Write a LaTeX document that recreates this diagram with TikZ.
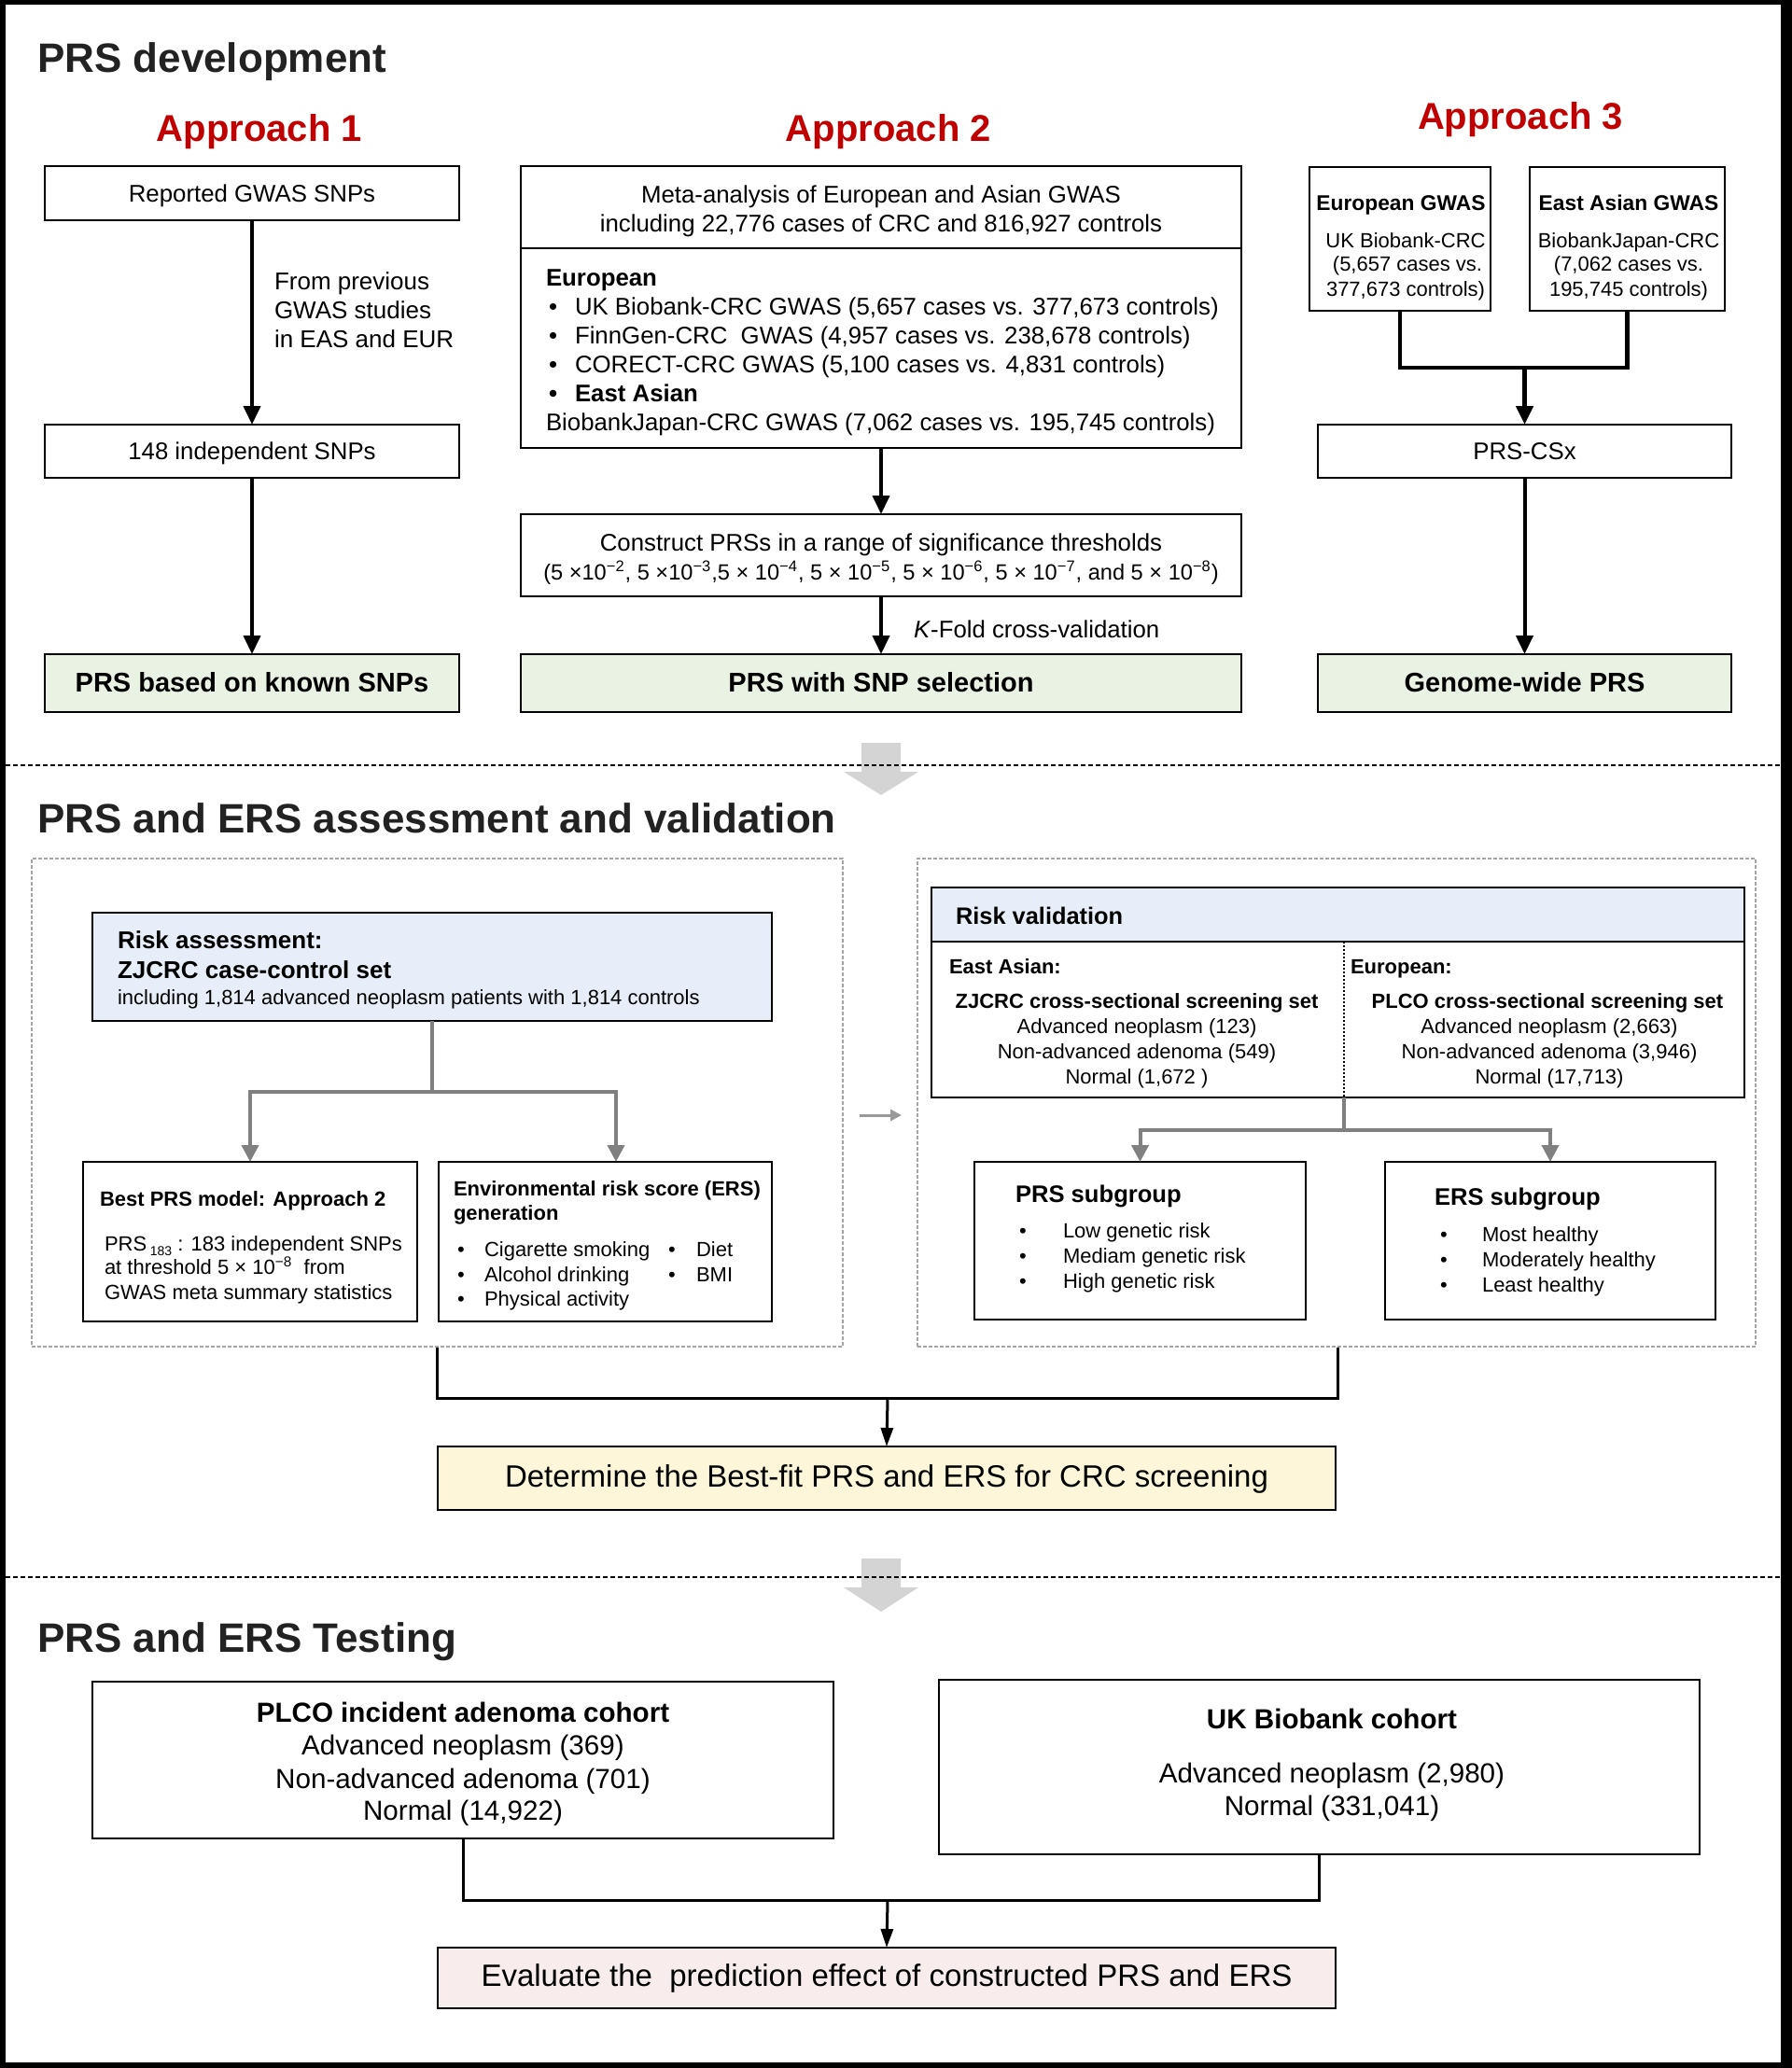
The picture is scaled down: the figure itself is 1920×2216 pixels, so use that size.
\documentclass[tikz,border=0pt]{standalone}
\usepackage{fontspec}
\setmainfont{Liberation Sans}
\usetikzlibrary{arrows.meta}
\definecolor{apred}{RGB}{192,0,0}
\definecolor{gfill}{RGB}{234,242,228}
\definecolor{bfill}{RGB}{231,238,249}
\definecolor{yfill}{RGB}{253,246,217}
\definecolor{pfill}{RGB}{249,236,236}
\definecolor{garrow}{RGB}{212,212,212}
\definecolor{gline}{RGB}{128,128,128}
\definecolor{gdash}{RGB}{165,165,165}
\definecolor{hdcol}{RGB}{34,34,34}
\begin{document}
\begin{tikzpicture}[x=0.5pt,y=-0.5pt,
 box/.style={draw=black, line width=1pt, inner sep=0pt, outer sep=0pt},
 tc/.style={inner sep=0pt, outer sep=0pt, anchor=mid, yshift=-2pt},
 tl/.style={inner sep=0pt, outer sep=0pt, anchor=mid west, yshift=-2pt},
 fa/.style={font=\fontsize{11}{13}\selectfont},
 fab/.style={font=\fontsize{11.4}{14}\selectfont\bfseries},
 fb/.style={font=\fontsize{12.9}{15}\selectfont},
 fbb/.style={font=\fontsize{12.9}{15}\selectfont\bfseries},
 fc/.style={font=\fontsize{13}{15}\selectfont},
 fgb/.style={font=\fontsize{14.5}{17}\selectfont\bfseries},
 fe/.style={font=\fontsize{16.5}{19}\selectfont},
 fs3/.style={font=\fontsize{14.8}{17}\selectfont, yshift=-1pt},
 fs3b/.style={font=\fontsize{14.8}{17}\selectfont\bfseries, yshift=-1pt},
 hd/.style={tl, font=\fontsize{22}{26}\selectfont\bfseries, text=hdcol, yshift=-3pt},
 ap/.style={tc, font=\fontsize{20}{24}\selectfont\bfseries, text=apred, yshift=-2.5pt},
 arr/.style={line width=2pt, -{Triangle[length=10pt,width=9pt]}},
 barr/.style={line width=1.5pt, -{Triangle[length=10pt,width=6.5pt]}},
 bline/.style={line width=1.5pt},
 garr/.style={draw=gline, line width=2pt, -{Triangle[length=9pt,width=9pt]}},
 gconn/.style={draw=gline, line width=2pt},
 gbox/.style={draw=gdash, line width=0.8pt, dash pattern=on 2pt off 1pt, inner sep=0pt},
 sep/.style={draw=black, line width=1pt, dash pattern=on 2.5pt off 1.5pt},
]
\useasboundingbox (0,0) rectangle (1920,2216);
\fill[black] (0,0) rectangle (1920,2216);
\fill[white] (6,5) rectangle (1908,2210);

% ---------------- Section 1 ----------------
\node[hd] (h1) at (40,62) {PRS development};
\node[ap] (ap1) at (278,137) {Approach 1};
\node[ap] (ap2) at (952,137) {Approach 2};
\node[ap] (ap3) at (1629,124) {Approach 3};

% Approach 1
\node[box, minimum width=222pt, minimum height=29pt] (a1) at (270,207) {};
\node[tc, fb] (a1t) at (a1) {Reported GWAS SNPs};
\node[box, minimum width=222pt, minimum height=28.5pt] (b1) at (270,483.5) {};
\node[tc, fb] (b1t) at (b1) {148 independent SNPs};
\node[box, fill=gfill, minimum width=222pt, minimum height=31pt] (c1) at (270,732) {};
\node[tc, fgb] (c1t) at (c1) {PRS based on known SNPs};
\draw[arr] (a1.south) -- (b1.north);
\draw[arr] (b1.south) -- (c1.north);
\node[tl, fc] (f1) at (294,301) {From previous};
\node[tl, fc] (f2) at (294,332) {GWAS studies};
\node[tl, fc] (f3) at (294,363) {in EAS and EUR};

% Approach 2
\node[box, minimum width=386pt, minimum height=44pt] (a2) at (944,222) {};
\node[tc, fb] (a2t1) at (944,208) {Meta-analysis of European and Asian GWAS};
\node[tc, fb] (a2t2) at (944,239) {including 22,776 cases of CRC and 816,927 controls};
\node[box, minimum width=386pt, minimum height=107pt] (b2) at (944,373) {};
\node[tl, fbb] (eu) at (585,297) {European};
\node[tl, fb] (bu1) at (588,328) {•};
\node[tl, fb] (it1) at (616,328) {UK Biobank-CRC GWAS (5,657 cases vs. 377,673 controls)};
\node[tl, fb] (bu2) at (588,359) {•};
\node[tl, fb] (it2) at (616,359) {FinnGen-CRC\ \ GWAS (4,957 cases vs. 238,678 controls)};
\node[tl, fb] (bu3) at (588,390) {•};
\node[tl, fb] (it3) at (616,390) {CORECT-CRC GWAS (5,100 cases vs. 4,831 controls)};
\node[tl, fbb] (bu4) at (588,421) {•};
\node[tl, fbb] (it4) at (616,421) {East Asian};
\node[tl, fb] (it5) at (585,452) {BiobankJapan-CRC GWAS (7,062 cases vs. 195,745 controls)};
\node[box, minimum width=386pt, minimum height=44pt] (c2) at (944,595) {};
\node[tc, fb] (c2t1) at (944,581) {Construct PRSs in a range of significance thresholds};
\node[tc, font=\fontsize{11.8}{14}\selectfont] (c2t2) at (944,612) {(5 ×10\textsuperscript{−2}, 5 ×10\textsuperscript{−3},5 × 10\textsuperscript{−4}, 5 × 10\textsuperscript{−5}, 5 × 10\textsuperscript{−6}, 5 × 10\textsuperscript{−7}, and 5 × 10\textsuperscript{−8})};
\node[box, fill=gfill, minimum width=386pt, minimum height=31pt] (d2) at (944,732) {};
\node[tc, fgb] (d2t) at (d2) {PRS with SNP selection};
\draw[arr] (b2.south) -- (c2.north);
\draw[arr] (c2.south) -- (d2.north);
\node[tl, fb] (kf) at (979,674) {\textit{K}-Fold cross-validation};

% Approach 3
\node[box, minimum width=97pt, minimum height=77pt] (a3) at (1500,256) {};
\node[tc, fab] (a3t0) at (1501,216) {European GWAS};
\node[tc, fa] (a3t1) at (1506,256) {UK Biobank-CRC};
\node[tc, fa] (a3t2) at (1508,281) {(5,657 cases vs.};
\node[tc, fa] (a3t3) at (1506,308) {377,673 controls)};
\node[box, minimum width=104.5pt, minimum height=77pt] (b3) at (1743.5,256) {};
\node[tc, fab] (b3t0) at (1745,216) {East Asian GWAS};
\node[tc, fa] (b3t1) at (1745,256) {BiobankJapan-CRC};
\node[tc, fa] (b3t2) at (1745,281) {(7,062 cases vs.};
\node[tc, fa] (b3t3) at (1745,308) {195,745 controls)};
\coordinate (j3) at (1633.5,394);
\draw[line width=2.4pt] (a3.south) |- (j3) -| (b3.south);
\node[box, minimum width=221.5pt, minimum height=28.5pt] (csx) at (1633.5,483.5) {};
\node[tc, fb] (csxt) at (csx) {PRS-CSx};
\node[box, fill=gfill, minimum width=221.5pt, minimum height=31pt] (gw) at (1633.5,732) {};
\node[tc, fgb] (gwt) at (gw) {Genome-wide PRS};
\draw[arr, line width=2.4pt] (j3) -- (csx.north);
\draw[arr] (csx.south) -- (gw.north);

% separator 1
\fill[garrow] (923,796) -- (965,796) -- (965,827) -- (984,827) -- (944,852) -- (904,827) -- (923,827) -- cycle;
\draw[sep] (6,820) -- (1908,820);

% ---------------- Section 2 ----------------
\node[hd] (h2) at (40,877) {PRS and ERS assessment and validation};
\node[gbox, minimum width=434.5pt, minimum height=261.5pt] (lbox) at (468.5,1181.5) {};
\node[gbox, minimum width=449pt, minimum height=261.5pt] (rbox) at (1432,1181.5) {};

% left part
\node[box, fill=bfill, minimum width=364pt, minimum height=58pt] (ra) at (463,1036) {};
\node[tl, font=\bfseries\fontsize{13}{15}\selectfont] (rat1) at (126,1007) {Risk assessment:};
\node[tl, font=\bfseries\fontsize{13}{15}\selectfont] (rat2) at (126,1039) {ZJCRC case-control set};
\node[tl, fa] (rat3) at (126,1067) {including 1,814 advanced neoplasm patients with 1,814 controls};
\node[box, minimum width=179pt, minimum height=85.5pt] (best) at (268,1330.5) {};
\node[box, minimum width=178.5pt, minimum height=85.5pt] (ers) at (648.5,1330.5) {};
\coordinate (ga) at (463,1170);
\draw[gconn] (ra.south) -- (ga);
\draw[garr] (ga) -| (best.north);
\draw[garr] (ga) -| ([xshift=5.75pt]ers.north);
\node[tl, font=\bfseries\fontsize{11}{13}\selectfont] (bt0) at (107,1283) {Best PRS model: Approach 2};
\node[tl, fa] (bt1) at (112,1331) {PRS\,\raisebox{-0.45ex}{\fontsize{7}{8}\selectfont 183} : 183 independent SNPs};
\node[tl, fa] (bt2) at (112,1356) {at threshold 5 × 10\textsuperscript{−8}\ \ from};
\node[tl, fa] (bt3) at (112,1383) {GWAS meta summary statistics};
\node[tl, font=\bfseries\fontsize{11}{13}\selectfont] (et0) at (486,1272) {Environmental risk score (ERS)};
\node[tl, font=\bfseries\fontsize{11}{13}\selectfont] (et1) at (486,1298) {generation};
\node[tl, fa] (eb1) at (490,1337) {•};
\node[tl, fa] (ei1) at (519,1337) {Cigarette smoking};
\node[tl, fa] (eb2) at (490,1364) {•};
\node[tl, fa] (ei2) at (519,1364) {Alcohol drinking};
\node[tl, fa] (eb3) at (490,1390) {•};
\node[tl, fa] (ei3) at (519,1390) {Physical activity};
\node[tl, fa] (eb4) at (716,1337) {•};
\node[tl, fa] (ei4) at (746,1337) {Diet};
\node[tl, fa] (eb5) at (716,1364) {•};
\node[tl, fa] (ei5) at (746,1364) {BMI};

% small arrow between boxes
\coordinate (sa1) at (921,1195);
\coordinate (sa2) at (966,1195);
\draw[draw=gline!80, line width=1.5pt, -{Triangle[length=6pt,width=6pt]}] (sa1) -- (sa2);

% right part
\node[box, fill=bfill, minimum width=435.5pt, minimum height=29pt] (rvh) at (1433.5,980) {};
\node[tl, font=\bfseries\fontsize{12.7}{15}\selectfont] (rvt) at (1024,981) {Risk validation};
\node[box, minimum width=435.5pt, minimum height=83.5pt] (rvl) at (1433.5,1092.5) {};
\draw[line width=0.8pt, dash pattern=on 1pt off 1pt] (1440,0 |- rvl.north) -- (1440,0 |- rvl.south);
\node[tl, font=\bfseries\fontsize{11}{13}\selectfont] (eat) at (1017,1034) {East Asian:};
\node[tc, font=\bfseries\fontsize{11}{13}\selectfont] (ea1) at (1218,1071) {ZJCRC cross-sectional screening set};
\node[tc, fa] (ea2) at (1218,1098) {Advanced neoplasm (123)};
\node[tc, fa] (ea3) at (1218,1125) {Non-advanced adenoma (549)};
\node[tc, fa] (ea4) at (1218,1152) {Normal (1,672 )};
\node[tl, font=\bfseries\fontsize{11}{13}\selectfont] (eut) at (1447,1034) {European:};
\node[tc, font=\bfseries\fontsize{11}{13}\selectfont] (eu1) at (1658,1071) {PLCO cross-sectional screening set};
\node[tc, fa] (eu2) at (1660,1098) {Advanced neoplasm (2,663)};
\node[tc, fa] (eu3) at (1660,1125) {Non-advanced adenoma (3,946)};
\node[tc, fa] (eu4) at (1660,1152) {Normal (17,713)};
\node[box, minimum width=177.5pt, minimum height=84.5pt] (prss) at (1221.5,1329.5) {};
\node[box, minimum width=177pt, minimum height=84.5pt] (erss) at (1661,1329.5) {};
\coordinate (gv) at (1440,1211);
\draw[gconn] (1440,0 |- rvl.south) -- (gv);
\draw[garr] (gv) -| (prss.north);
\draw[garr] (gv) -| (erss.north);
\node[tl, font=\bfseries\fontsize{12.8}{15}\selectfont] (pst) at (1088,1279) {PRS subgroup};
\node[tl, fa] (pb1) at (1092,1317) {•};
\node[tl, fa] (pi1) at (1139,1317) {Low genetic risk};
\node[tl, fa] (pb2) at (1092,1344) {•};
\node[tl, fa] (pi2) at (1139,1344) {Mediam genetic risk};
\node[tl, fa] (pb3) at (1092,1371) {•};
\node[tl, fa] (pi3) at (1139,1371) {High genetic risk};
\node[tl, font=\bfseries\fontsize{12.8}{15}\selectfont] (est) at (1537,1282) {ERS subgroup};
\node[tl, fa] (sb1) at (1543,1321) {•};
\node[tl, fa] (si1) at (1588,1321) {Most healthy};
\node[tl, fa] (sb2) at (1543,1348) {•};
\node[tl, fa] (si2) at (1588,1348) {Moderately healthy};
\node[tl, fa] (sb3) at (1543,1375) {•};
\node[tl, fa] (si3) at (1588,1375) {Least healthy};

% merge to determine box
\node[box, line width=1.4pt, fill=yfill, minimum width=481pt, minimum height=34pt] (det) at (950,1584) {};
\node[tc, fe] (dett) at (det) {Determine the Best-fit PRS and ERS for CRC screening};
\coordinate (m2) at (951,1498);
\draw[bline] (468,0 |- lbox.south) |- (m2) -| (1433,0 |- rbox.south);
\draw[barr] (m2) -- (det.north);

% separator 2
\fill[garrow] (923,1670) -- (965,1670) -- (965,1701) -- (984,1701) -- (944,1727) -- (904,1701) -- (923,1701) -- cycle;
\draw[sep] (6,1690) -- (1908,1690);

% ---------------- Section 3 ----------------
\node[hd] (h3) at (40,1755) {PRS and ERS Testing};
\node[box, minimum width=397pt, minimum height=84pt] (plco) at (496,1886) {};
\node[tc, fs3b] (pl0) at (496,1834) {PLCO incident adenoma cohort};
\node[tc, fs3] (pl1) at (496,1869) {Advanced neoplasm (369)};
\node[tc, fs3] (pl2) at (496,1905) {Non-advanced adenoma (701)};
\node[tc, fs3] (pl3) at (496,1939) {Normal (14,922)};
\node[box, minimum width=407.5pt, minimum height=93.5pt] (ukb) at (1413.5,1893.5) {};
\node[tc, fs3b] (uk0) at (1427,1841) {UK Biobank cohort};
\node[tc, fs3] (uk1) at (1427,1899) {Advanced neoplasm (2,980)};
\node[tc, fs3] (uk2) at (1427,1934) {Normal (331,041)};
\node[box, line width=1.4pt, fill=pfill, minimum width=481pt, minimum height=32.5pt] (ev) at (950,2119.5) {};
\node[tc, fe] (evt) at (ev) {Evaluate the\ \ prediction effect of constructed PRS and ERS};
\coordinate (m3) at (951,2036);
\draw[bline] (plco.south) |- (m3) -| (ukb.south);
\draw[barr] (m3) -- (ev.north);
\end{tikzpicture}
\end{document}
